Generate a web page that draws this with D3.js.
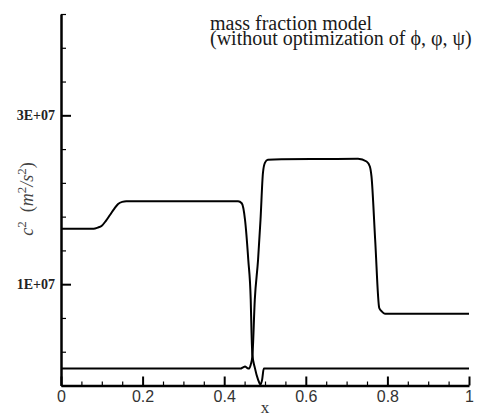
<!DOCTYPE html>
<html>
<head>
<meta charset="utf-8">
<script src="https://cdn.jsdelivr.net/npm/d3@7"></script>
<style>
  html, body { margin: 0; padding: 0; background: #fff; }
  svg { display: block; }
  .serif { font-family: "Liberation Serif", "DejaVu Serif", serif; }
  .sans { font-family: "Liberation Sans", Arial, sans-serif; }
</style>
</head>
<body>
<svg id="chart" width="482" height="417"></svg>
<script>
// ---- data ----
const xTickValues = [0, 0.2, 0.4, 0.6, 0.8, 1];
const yMajorTicks = [1e7, 3e7];
const yTickLabels = ["1E+07", "3E+07"];
const titleLines = ["mass fraction model", "(without optimization of \u03D5, \u03C6, \u03C8)"];

// series A: starts ~1.66E+07, rises to ~1.98E+07, drops to ~0 after x≈0.47
const seriesAX = [0, 0.08, 0.09, 0.10, 0.11, 0.12, 0.13, 0.14, 0.15, 0.16, 0.30, 0.434, 0.443, 0.451, 0.459, 0.465, 0.467, 0.469, 0.475, 0.483, 0.489, 0.493, 0.497, 0.6, 0.8, 1.0];
const seriesAY = [1.657e7, 1.657e7, 1.67e7, 1.692e7, 1.75e7, 1.82e7, 1.89e7, 1.95e7, 1.975e7, 1.982e7, 1.982e7, 1.982e7, 1.958e7, 1.763e7, 1.29e7, 0.817e7, 0.426e7, 0.166e7, 0.012e7, -0.13e7, -0.189e7, -0.13e7, 0, 0, 0, 0];

// series B: ~0 up to x≈0.46 (small bump), rises to ~2.48E+07, drops to ~6.5E+06 near x≈0.77
const seriesBX = [0, 0.2, 0.44, 0.446, 0.451, 0.456, 0.46, 0.465, 0.469, 0.475, 0.483, 0.489, 0.495, 0.5, 0.507, 0.54, 0.65, 0.728, 0.749, 0.757, 0.761, 0.770, 0.780, 0.786, 0.794, 0.9, 1.0];
const seriesBY = [0, 0, 0, 0.015e7, 0.025e7, 0.01e7, 0, 0.047e7, 0.142e7, 0.817e7, 1.29e7, 1.763e7, 2.32e7, 2.44e7, 2.473e7, 2.48e7, 2.483e7, 2.485e7, 2.453e7, 2.394e7, 2.276e7, 1.527e7, 0.718e7, 0.678e7, 0.651e7, 0.651e7, 0.651e7];

// ---- layout ----
const svg = d3.select("#chart");
const x = d3.scaleLinear().domain([0, 1]).range([61, 469]);
const y = d3.scaleLinear().domain([-2e6, 4.2e7]).range([385.5, 14]);

// ---- axes ----
const xMinor = d3.range(0, 1.0001, 0.05).filter(v => Math.abs(v * 5 - Math.round(v * 5)) > 1e-6);
const gxMinor = svg.append("g").attr("transform", `translate(0,${y(-2e6)})`)
  .call(d3.axisBottom(x).tickValues(xMinor).tickSize(-4).tickSizeOuter(0).tickFormat(""));
gxMinor.select(".domain").remove();
gxMinor.selectAll("line").attr("stroke", "#000").attr("stroke-width", 1.2);

const gx = svg.append("g").attr("transform", `translate(0,${y(-2e6)})`)
  .call(d3.axisBottom(x).tickValues(xTickValues).tickSize(-9).tickSizeOuter(0).tickPadding(5).tickFormat(d3.format("~g")));
gx.attr("font-family", null).attr("font-size", null);
gx.select(".domain").attr("stroke", "#000").attr("stroke-width", 2.5);
gx.selectAll("line").attr("stroke", "#000").attr("stroke-width", 2);
gx.selectAll("text").attr("class", "sans").attr("fill", "#333").attr("font-size", 16);

const yMinor = d3.range(-2e6, 4.2e7 + 1, 4e6).filter(v => !yMajorTicks.includes(v));
const gyMinor = svg.append("g").attr("transform", `translate(${x(0)},0)`)
  .call(d3.axisLeft(y).tickValues(yMinor).tickSize(-5).tickSizeOuter(0).tickFormat(""));
gyMinor.select(".domain").remove();
gyMinor.selectAll("line").attr("stroke", "#000").attr("stroke-width", 1.2);

const gy = svg.append("g").attr("transform", `translate(${x(0)},0)`)
  .call(d3.axisLeft(y).tickValues(yMajorTicks).tickSize(-10).tickSizeOuter(0).tickPadding(6)
    .tickFormat((d, i) => yTickLabels[i]));
gy.attr("font-family", null).attr("font-size", null);
gy.select(".domain").attr("stroke", "#000").attr("stroke-width", 2.5);
gy.selectAll("line").attr("stroke", "#000").attr("stroke-width", 2);
gy.selectAll("text").attr("class", "serif").attr("fill", "#222")
  .attr("font-size", 14).attr("font-weight", "bold");

// ---- lines ----
const line = d3.line().x(d => x(d[0])).y(d => y(d[1])).curve(d3.curveMonotoneX);
const dataA = seriesAX.map((v, i) => [v, seriesAY[i]]);
const dataB = seriesBX.map((v, i) => [v, seriesBY[i]]);
svg.append("path").datum(dataA).attr("d", line).attr("fill", "none").attr("stroke", "#000").attr("stroke-width", 2);
svg.append("path").datum(dataB).attr("d", line).attr("fill", "none").attr("stroke", "#000").attr("stroke-width", 2);

// ---- texts ----
svg.selectAll("text.title").data(titleLines).enter().append("text")
  .attr("class", "title serif")
  .attr("x", 210).attr("y", (d, i) => 29.5 + i * 15.5)
  .attr("fill", "#1a1a1a")
  .attr("font-size", 20)
  .text(d => d);

svg.append("text").attr("class", "serif").attr("x", x(0.5)).attr("y", 413).attr("text-anchor", "middle")
  .attr("fill", "#333").attr("font-size", 17).text("x");

const yl = svg.append("text")
  .attr("class", "serif")
  .attr("transform", "translate(33,199) rotate(-90)")
  .attr("text-anchor", "middle")
  .attr("fill", "#444").attr("font-size", 18);
yl.append("tspan").attr("font-style", "italic").text("c");
yl.append("tspan").attr("dy", -7).attr("font-size", 13).text("2");
yl.append("tspan").attr("dy", 7).text("\u2002(");
yl.append("tspan").attr("font-style", "italic").text("m");
yl.append("tspan").attr("dy", -7).attr("font-size", 13).text("2");
yl.append("tspan").attr("dy", 7).attr("font-style", "italic").text("/s");
yl.append("tspan").attr("dy", -7).attr("font-size", 13).text("2");
yl.append("tspan").attr("dy", 7).text(")");
</script>
</body>
</html>
